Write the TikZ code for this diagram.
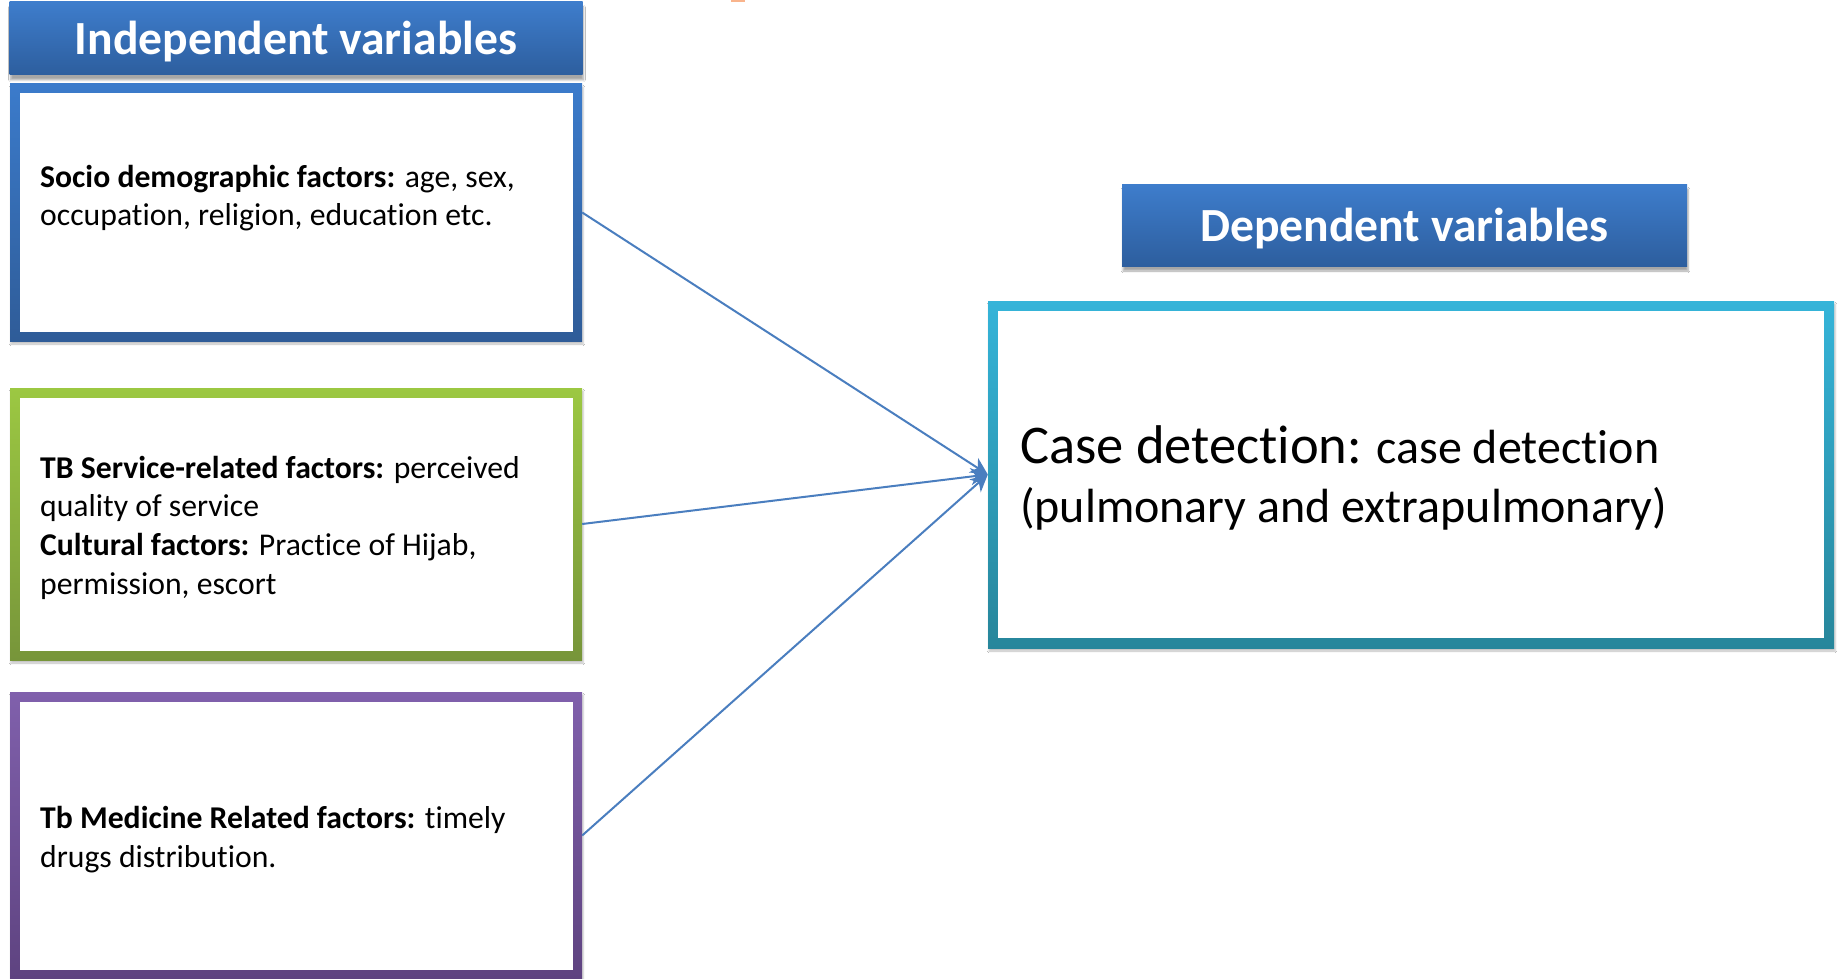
\documentclass[tikz,border=0pt]{standalone}
\usepackage{fontspec}
\setmainfont{Carlito}[Ligatures=NoCommon,RawFeature={-liga;-clig;-dlig}]
\usetikzlibrary{arrows.meta,shadows.blur}
\definecolor{hdrtop}{HTML}{3E7DCC}
\definecolor{hdrbot}{HTML}{2D5E9E}
\definecolor{bluetop}{HTML}{3B7BCB}
\definecolor{bluebot}{HTML}{2F5C98}
\definecolor{greentop}{HTML}{9CC842}
\definecolor{greenbot}{HTML}{77953A}
\definecolor{purptop}{HTML}{8060AC}
\definecolor{purpbot}{HTML}{5E4380}
\definecolor{cyantop}{HTML}{35B4D9}
\definecolor{cyanbot}{HTML}{27869B}
\definecolor{arrowblue}{HTML}{4A7EBF}
\definecolor{orangebit}{HTML}{F9B48C}
\tikzset{
  framebox/.style n args={3}{rectangle, inner sep=0pt,
    top color=#1, bottom color=#2,
    blur shadow={shadow xshift=1pt, shadow yshift=-3pt, shadow opacity=25, shadow blur steps=5},
    path picture={\fill[white]
      ([xshift=#3,yshift=-#3]path picture bounding box.north west) rectangle
      ([xshift=-#3,yshift=#3]path picture bounding box.south east);}},
  hdr/.style={rectangle, inner sep=0pt, top color=hdrtop, bottom color=hdrbot,
    blur shadow={shadow xshift=1pt, shadow yshift=-5pt, shadow opacity=35, shadow blur steps=6}},
  hdrtext/.style={inner sep=0pt, text=white, font=\bfseries\fontsize{47.6}{56}\selectfont},
  body/.style={anchor=west, align=left, inner sep=0pt, font=\fontsize{31.7}{38.7}\selectfont},
  bigbody/.style={anchor=west, align=left, inner sep=0pt, font=\fontsize{48}{58.6}\selectfont},
  link/.style={draw=arrowblue, line width=2pt, -{Stealth[length=17pt,width=17pt,inset=5pt]}},
}
\begin{document}
\begin{tikzpicture}[x=1pt,y=-1pt]
\useasboundingbox[fill=white] (0,0) rectangle (1837,979);
\fill[orangebit] (731,0) rectangle (745,2);

\node[hdr, minimum width=573pt, minimum height=73pt] (h1) at (296,38.5) {};
\node[hdrtext] (h1t) at (296,41.5) {Independent variables};
\node[framebox={bluetop}{bluebot}{9.5pt}, minimum width=572pt, minimum height=257pt] (b1) at (296,212.5) {};
\node[framebox={greentop}{greenbot}{9.5pt}, minimum width=572pt, minimum height=272pt] (b2) at (296,524) {};
\node[framebox={purptop}{purpbot}{9.5pt}, minimum width=572pt, minimum height=287pt] (b3) at (296,835.5) {};

\node[hdr, minimum width=565pt, minimum height=82pt] (h2) at (1404.5,225) {};
\node[hdrtext] (h2t) at (1404.5,228.5) {Dependent variables};
\node[framebox={cyantop}{cyanbot}{10pt}, minimum width=846pt, minimum height=347pt] (dep) at (1411,474.5) {};

\node[body] (t1) at (40,198) {\textbf{Socio demographic factors:} age, sex,\\occupation, religion, education etc.};
\node[body] (t2) at (40,527.5) {\textbf{TB Service-related factors:} perceived\\quality of service\\\textbf{Cultural factors:} Practice of Hijab,\\permission, escort};
\node[body] (t3) at (40,839.5) {\textbf{Tb Medicine Related factors:} timely\\drugs distribution.};
\node[bigbody] (t4) at (1020,478) {{\fontsize{54.5}{58.6}\selectfont Case detection:} case detection\\(pulmonary and extrapulmonary)};

\draw[link] (b1.east) -- (dep.west);
\draw[link] (b2.east) -- (dep.west);
\draw[link] (b3.east) -- (dep.west);
\end{tikzpicture}
\end{document}
